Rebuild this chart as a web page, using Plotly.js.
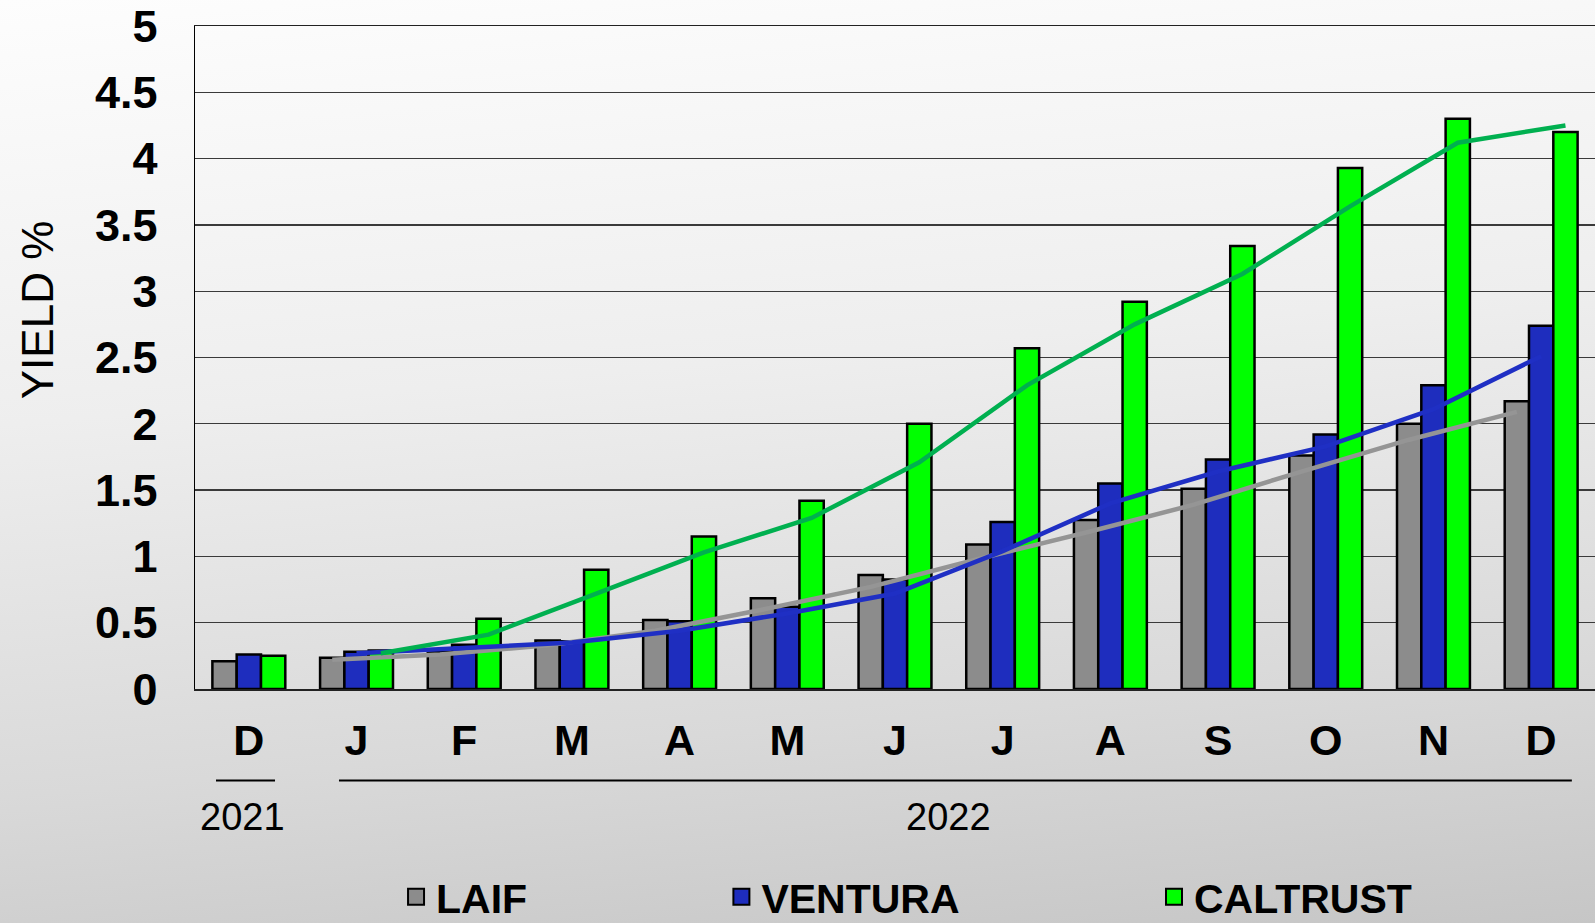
<!DOCTYPE html>
<html>
<head>
<meta charset="utf-8">
<script src="https://cdn.plot.ly/plotly-3.0.1.min.js"></script>
<style>
  html, body { margin: 0; padding: 0; }
  body {
    width: 1595px; height: 923px; overflow: hidden;
    background: linear-gradient(175deg, #fdfdfd 0%, #eeeeee 40%, #d9d9d9 75%, #c6c6c6 100%);
  }
  #chart { width: 1595px; height: 923px; }
</style>
</head>
<body>
<div id="chart"></div>
<script>
// ---- data ----
const months = ['D', 'J', 'F', 'M', 'A', 'M', 'J', 'J', 'A', 'S', 'O', 'N', 'D'];
const years = ['2021', '2022'];
const seriesNames = ['LAIF', 'VENTURA', 'CALTRUST'];

const laif     = [0.21, 0.235, 0.28, 0.365, 0.52, 0.685, 0.86, 1.09, 1.275, 1.51, 1.76, 2.00, 2.17];
const ventura  = [0.26, 0.28, 0.333, 0.36, 0.51, 0.62, 0.825, 1.26, 1.55, 1.73, 1.92, 2.29, 2.74];
const caltrust = [0.25, 0.29, 0.53, 0.90, 1.15, 1.42, 2.00, 2.57, 2.92, 3.34, 3.93, 4.30, 4.20];

// trend lines (J .. D 2022)
const laifTrend     = [0.22, 0.26, 0.33, 0.44, 0.60, 0.77, 0.98, 1.18, 1.39, 1.64, 1.88, 2.09];
const venturaTrend  = [0.27, 0.31, 0.35, 0.44, 0.57, 0.72, 1.04, 1.40, 1.64, 1.83, 2.11, 2.51];
const caltrustTrend = [0.27, 0.41, 0.72, 1.03, 1.29, 1.71, 2.29, 2.75, 3.13, 3.64, 4.12, 4.25];

// ---- styling ----
const colors = ['#8c8c8c', '#1e2dbe', '#00ff00'];
const lineColors = ['#959595', '#1f2fc4', '#00b050'];
const BARGAP = 0.323;
const barW = (1 - BARGAP) / 3;
const offsets = [-barW, 0, barW];

const idx = months.map((_, i) => i);
const trendIdx = idx.slice(1);
const barData = [laif, ventura, caltrust];
const trendData = [laifTrend, venturaTrend, caltrustTrend];

const SANS = '"Liberation Sans", Arial, sans-serif';

const traces = [];
barData.forEach((vals, s) => {
  traces.push({
    type: 'bar', x: idx, y: vals, name: seriesNames[s], showlegend: false,
    marker: { color: colors[s], line: { color: '#000', width: 2.5 } },
    hoverinfo: 'y'
  });
});
trendData.forEach((vals, s) => {
  traces.push({
    type: 'scatter', mode: 'lines', x: trendIdx.map(i => i + offsets[s]), y: vals,
    showlegend: false, line: { color: lineColors[s], width: 4.5 }, hoverinfo: 'skip'
  });
});
['legend', 'legend2', 'legend3'].forEach((lg, s) => {
  traces.push({
    type: 'scatter', mode: 'markers', x: [null], y: [null], name: seriesNames[s],
    legend: lg, showlegend: true,
    marker: { symbol: 'square', size: 16, color: colors[s], line: { color: '#000', width: 2 } }
  });
});

const legendBase = {
  orientation: 'h', yref: 'container', yanchor: 'middle', y: 0.028, xanchor: 'left',
  bgcolor: 'rgba(0,0,0,0)', itemsizing: 'trace',
  font: { family: SANS, size: 41, color: '#000', weight: 'bold' }
};

const layout = {
  width: 1595, height: 923,
  margin: { l: 195, r: 0, t: 26, b: 233.5, pad: 0 },
  paper_bgcolor: 'rgba(0,0,0,0)',
  plot_bgcolor: 'rgba(0,0,0,0)',
  barmode: 'group', bargap: BARGAP, bargroupgap: 0,
  showlegend: true,
  legend:  Object.assign({}, legendBase, { x: 0.1436 }),
  legend2: Object.assign({}, legendBase, { x: 0.376 }),
  legend3: Object.assign({}, legendBase, { x: 0.685 }),
  xaxis: {
    range: [-0.5, 12.5], tickmode: 'array', tickvals: idx, ticktext: months,
    showgrid: false, zeroline: false, ticks: '',
    showline: true, linecolor: '#222', linewidth: 1.5, mirror: true,
    tickfont: { family: SANS, size: 43, color: '#000', weight: 'bold' },
    ticklabelstandoff: 13
  },
  yaxis: {
    range: [0, 5], dtick: 0.5, tick0: 0,
    showgrid: true, gridcolor: '#3a3a3a', gridwidth: 1.3,
    zeroline: false, showline: true, linecolor: '#000', linewidth: 1.5,
    ticks: '', ticklabelstandoff: 27,
    tickfont: { family: SANS, size: 45, color: '#000', weight: 'bold' }
  },
  annotations: [
    { text: years[0], xref: 'x', yref: 'paper', x: -0.06, y: -0.193, showarrow: false,
      xanchor: 'center', yanchor: 'middle', font: { family: SANS, size: 38, color: '#000' } },
    { text: years[1], xref: 'x', yref: 'paper', x: 6.5, y: -0.193, showarrow: false,
      xanchor: 'center', yanchor: 'middle', font: { family: SANS, size: 38, color: '#000' } },
    { text: 'YIELD %', xref: 'paper', yref: 'paper', x: -0.1125, y: 0.572, showarrow: false,
      textangle: -90, xanchor: 'center', yanchor: 'middle',
      font: { family: SANS, size: 44, color: '#000' } }
  ],
  shapes: [
    { type: 'line', xref: 'x', yref: 'paper', x0: -0.305, x1: 0.243, y0: -0.138, y1: -0.138,
      line: { color: '#000', width: 2 } },
    { type: 'line', xref: 'x', yref: 'paper', x0: 0.837, x1: 12.285, y0: -0.138, y1: -0.138,
      line: { color: '#000', width: 2 } }
  ]
};

Plotly.newPlot('chart', traces, layout, { displayModeBar: false, staticPlot: true });
</script>
</body>
</html>
